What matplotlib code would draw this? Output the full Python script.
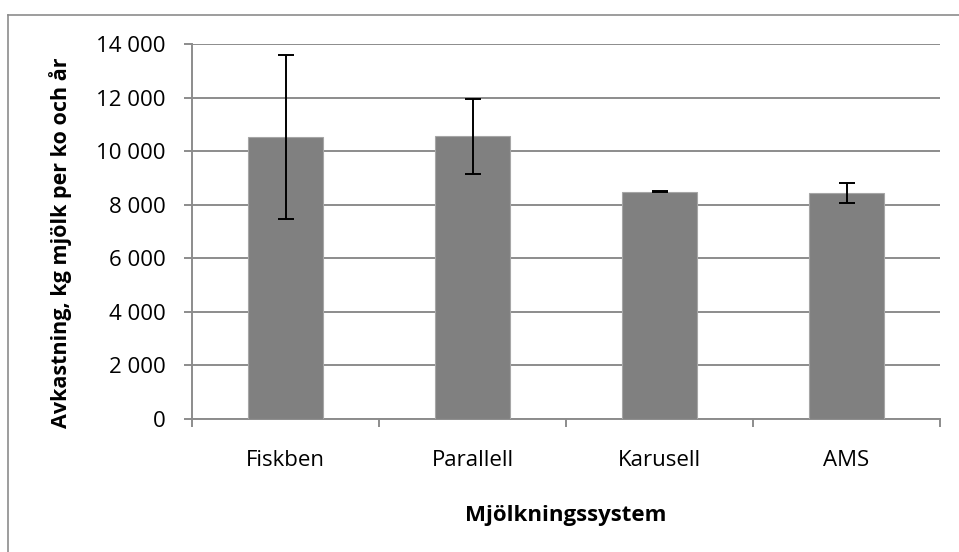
import numpy as np
import matplotlib
matplotlib.use("Agg")
import matplotlib.pyplot as plt
from matplotlib.ticker import FuncFormatter, FixedLocator
from matplotlib.lines import Line2D

plt.rcParams["font.family"] = ["Open Sans", "DejaVu Sans"]

# ---- data ----
systems = ["Fiskben", "Parallell", "Karusell", "AMS"]
yield_kg = [10540, 10560, 8490, 8440]
yield_err = [3050, 1400, 20, 360]
y_ticks = [0, 2000, 4000, 6000, 8000, 10000, 12000, 14000]

C_BAR, C_EDGE, C_GRID = "#808080", "#a6a6a6", "#8c8c8c"
W, H = 959, 552

fig = plt.figure(figsize=(W/100, H/100), dpi=100)
ax = fig.add_axes([192/W, 1-419/H, 748/W, (419-44.3)/H])

x = np.arange(len(systems))
ax.bar(x, yield_kg, width=0.4, color=C_BAR, edgecolor=C_EDGE, linewidth=0.8, zorder=3)
ax.errorbar(x, yield_kg, yerr=yield_err, fmt="none", ecolor="black",
            elinewidth=1.4, capsize=5.5, capthick=1.4, zorder=4)

ax.set_xlim(-0.5, len(systems)-0.5)
ax.set_ylim(0, 14000)
ax.yaxis.set_major_locator(FixedLocator(y_ticks))
ax.yaxis.set_major_formatter(FuncFormatter(lambda v, p: f"{int(v):,}".replace(",", " ")))
ax.grid(axis="y", color=C_GRID, lw=1.4, zorder=0)

ax.set_xticks(x)
ax.set_xticklabels(systems)
ax.set_xticks(np.arange(len(systems)+1)-0.5, minor=True)
ax.tick_params(axis="x", which="major", length=0, pad=22, labelsize=16)
ax.tick_params(axis="x", which="minor", length=6, width=1.4, color=C_GRID)
ax.tick_params(axis="y", length=6, width=1.4, color=C_GRID, pad=13, labelsize=16)

for s in ("top", "right"):
    ax.spines[s].set_visible(False)
for s in ("left", "bottom"):
    ax.spines[s].set_color(C_GRID)
    ax.spines[s].set_linewidth(1.4)

ax.set_xlabel("Mjölkningssystem", fontsize=16, fontweight="bold")
ax.xaxis.set_label_coords(0.5, (419-516)/(419-44.3))
ax.xaxis.label.set_va("center")
ax.set_ylabel("Avkastning, kg mjölk per ko och år", fontsize=15.5, fontweight="bold")
ax.yaxis.set_label_coords((61-192)/748, (419-243)/(419-44.3))
ax.yaxis.label.set_va("center")

# chart-area border (left and top edges visible)
fig.add_artist(Line2D([8/W, 8/W], [0, 1-15/H], transform=fig.transFigure, color=C_GRID, lw=1.2))
fig.add_artist(Line2D([8/W, 1], [1-15/H, 1-15/H], transform=fig.transFigure, color=C_GRID, lw=1.2))

fig.savefig("out.png", dpi=100)
